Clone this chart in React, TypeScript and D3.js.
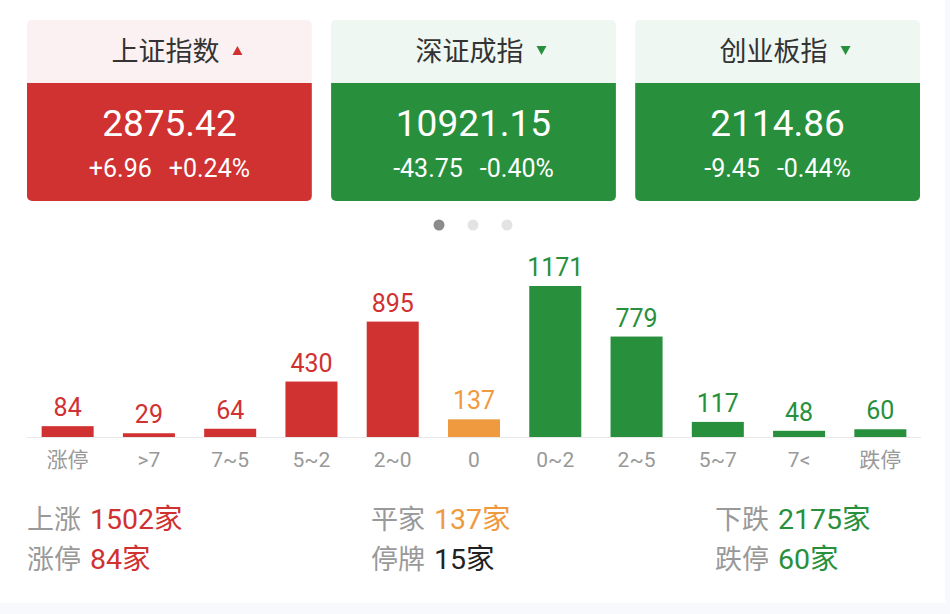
import React from "react";
import * as d3 from "d3";

const categories = ["涨停", ">7", "7~5", "5~2", "2~0", "0", "0~2", "2~5", "5~7", "7<", "跌停"];
const counts = [84, 29, 64, 430, 895, 137, 1171, 779, 117, 48, 60];
const trend = ["up", "up", "up", "up", "up", "flat", "down", "down", "down", "down", "down"];

const indexNames = ["上证指数", "深证成指", "创业板指"];
const indexValues = ["2875.42", "10921.15", "2114.86"];
const indexChanges = ["+6.96", "-43.75", "-9.45"];
const indexPcts = ["+0.24%", "-0.40%", "-0.44%"];
const indexTrend = ["up", "down", "down"];

const summaryLabels = [["上涨", "涨停"], ["平家", "停牌"], ["下跌", "跌停"]];
const summaryValues = [["1502家", "84家"], ["137家", "15家"], ["2175家", "60家"]];
const summaryTrend = [["up", "up"], ["flat", "none"], ["down", "down"]];

const RED = "#d03131";
const GREEN = "#28903c";
const ORANGE = "#ef9a3e";
const colorOf: Record<string, string> = { up: RED, down: GREEN, flat: ORANGE, none: "#222" };
const FONT = "Roboto, 'Noto Sans CJK SC', sans-serif";

export default function App() {
  const W = 950, H = 614;
  const x = d3.scaleBand<string>().domain(categories).range([27, 921]).paddingInner(0.36).paddingOuter(0.18);
  const baseY = 437;
  const y = d3.scaleLinear().domain([0, 1171]).range([baseY, 286]);

  const cardX = d3.scaleBand<string>().domain(indexNames).range([27, 920]).paddingInner(0.063);

  return (
    <svg width={W} height={H} style={{ position: "absolute", left: 0, top: 0, fontFamily: FONT }}>
      <rect width={W} height={H} fill="#ffffff" />
      <rect x={0} y={603} width={W} height={11} fill="#f8f9fc" />
      <rect x={945} y={0} width={5} height={H} fill="#f8f9fc" />
      {indexNames.map((name, i) => {
        const cx = cardX(name)!;
        const cw = cardX.bandwidth();
        const up = indexTrend[i] === "up";
        const col = up ? RED : GREEN;
        const mid = cx + cw / 2;
        return (
          <g key={name}>
            <clipPath id={`clip${i}`}>
              <rect x={cx} y={20} width={cw} height={181} rx={5} />
            </clipPath>
            <g clipPath={`url(#clip${i})`}>
              <rect x={cx} y={20} width={cw} height={63} fill={up ? "#fcf1f2" : "#eef7f1"} />
              <rect x={cx} y={83} width={cw} height={118} fill={col} />
            </g>
            <text x={mid - 4} y={61} textAnchor="middle" fontSize={27} fill="#333">{name}</text>
            {up ? (
              <path d={`M${mid + 63},${55} l5,-9 l5,9 z`} fill={RED} />
            ) : (
              <path d={`M${mid + 63},${46} l10,0 l-5,9 z`} fill={GREEN} />
            )}
            <text x={mid} y={136} textAnchor="middle" fontSize={37} fill="#fff">{indexValues[i]}</text>
            <text x={mid} y={177} textAnchor="middle" fontSize={25} fill="#fff">
              <tspan>{indexChanges[i]}</tspan>
              <tspan dx={17}>{indexPcts[i]}</tspan>
            </text>
          </g>
        );
      })}
      {[439, 473, 507].map((cx, i) => (
        <circle key={cx} cx={cx} cy={225} r={5.5} fill={i === 0 ? "#8c8c8c" : "#e3e3e3"} />
      ))}
      <line x1={27} x2={921} y1={baseY + 0.5} y2={baseY + 0.5} stroke="#e8e8e8" strokeWidth={1} />
      {categories.map((c, i) => {
        const bx = x(c)!;
        const bw = x.bandwidth();
        const col = colorOf[trend[i]];
        return (
          <g key={c}>
            <rect x={bx} y={y(counts[i])} width={bw} height={baseY - y(counts[i])} fill={col} />
            <text x={bx + bw / 2} y={y(counts[i]) - 10} textAnchor="middle" fontSize={25} fill={col}>{counts[i]}</text>
            <text x={bx + bw / 2} y={467} textAnchor="middle" fontSize={21} fill="#999">{c}</text>
          </g>
        );
      })}
      {summaryLabels.map((col, ci) => {
        const sx = [27, 371, 715][ci];
        return col.map((lab, ri) => (
          <text key={lab} x={sx} y={529 + ri * 40} fontSize={27}>
            <tspan fill="#999">{lab}</tspan>
            <tspan fill={colorOf[summaryTrend[ci][ri]]} dx={9} fontSize={28.5}>{summaryValues[ci][ri]}</tspan>
          </text>
        ));
      })}
    </svg>
  );
}
